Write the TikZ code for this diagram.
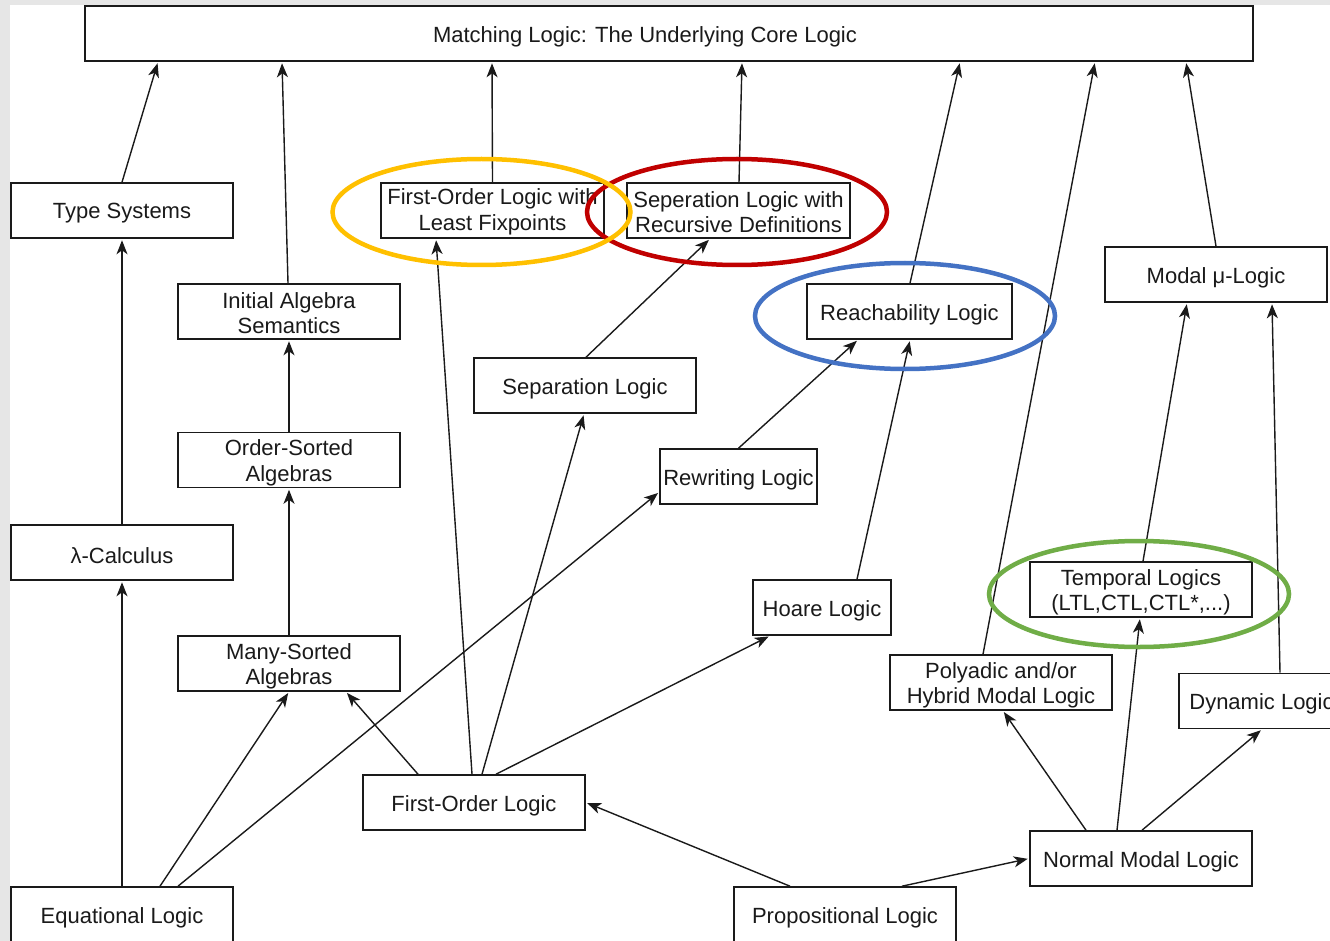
\documentclass[tikz,border=0pt]{standalone}
\usepackage{fontspec}
\setmainfont{Liberation Sans}
\usetikzlibrary{arrows.meta,calc}
\definecolor{bgray}{HTML}{E6E6E6}
\definecolor{hlyellow}{HTML}{FFC000}
\definecolor{hlred}{HTML}{C00000}
\definecolor{hlblue}{HTML}{4472C4}
\definecolor{hlgreen}{HTML}{70AD47}
\definecolor{ink}{HTML}{1A1A1A}
% \mybox[text options]{name}{(position)}{width}{text}
\newcommand\mybox[5][]{%
  \node[box,minimum width=#4] (#2) at #3 {};
  \node[txt,#1] (#2-t) at (#2.center) {#5};}
\begin{document}
\begin{tikzpicture}[x=1pt,y=-1pt,
  box/.style={draw=ink,line width=1.6pt,fill=white,inner sep=0pt,minimum height=55pt},
  txt/.style={inner sep=0pt,align=center,text=ink,font=\fontsize{22}{25.5}\selectfont,yshift=-3pt},
  two/.style={yshift=1.5pt},
  arr/.style={draw=ink,line width=1.4pt,-{Stealth[length=14pt,width=11pt,inset=4pt]},shorten >=1.5pt},
  hl/.style={line width=4.5pt}]
\clip (0,0) rectangle (1330,941);
\fill[bgray] (0,0) rectangle (1330,941);
\fill[white] (10,5) rectangle (1330,941);

% nodes
\mybox[xshift=-24pt]{ml}{(669,33.5)}{1168pt}{Matching Logic: The Underlying Core Logic}
\mybox{ts}{(122,210.5)}{222pt}{Type Systems}
\mybox[two]{lfp}{(492.5,210.5)}{223pt}{First-Order Logic with\\Least Fixpoints}
\mybox[two]{srd}{(738.5,210.5)}{223pt}{Seperation Logic with\\Recursive Definitions}
\mybox[two]{ias}{(289,311.5)}{222pt}{Initial Algebra\\Semantics}
\mybox{mmu}{(1216,274.5)}{222pt}{Modal μ-Logic}
\mybox{rl}{(909.5,311.5)}{205pt}{Reachability Logic}
\mybox{sl}{(585,385.5)}{222pt}{Separation Logic}
\mybox{osa}{(289,460)}{222pt}{Order-Sorted\\Algebras}
\mybox{rw}{(738.5,476.5)}{157pt}{Rewriting Logic}
\mybox{lam}{(122,552.5)}{222pt}{λ-Calculus}
\mybox{hl}{(822,607.5)}{138pt}{Hoare Logic}
\mybox{tl}{(1141,589.5)}{222pt}{Temporal Logics\\(LTL,CTL,CTL*,...)}
\mybox{msa}{(289,663.5)}{222pt}{Many-Sorted\\Algebras}
\mybox{pml}{(1001,682.5)}{222pt}{Polyadic and/or\\Hybrid Modal Logic}
\mybox{dl}{(1261.5,701)}{165pt}{Dynamic Logic}
\mybox{fol}{(474,802.5)}{222pt}{First-Order Logic}
\mybox{nml}{(1141,858.5)}{222pt}{Normal Modal Logic}
\mybox{eq}{(122,914.5)}{222pt}{Equational Logic}
\mybox{pl}{(845,914.5)}{222pt}{Propositional Logic}

% connectors
\draw[arr] (ts.north) -- ([xshift=-511pt]ml.south);
\draw[arr] ([xshift=-1pt]ias.north) -- ([xshift=-387pt]ml.south);
\draw[arr] (lfp.north) -- ([xshift=-177pt]ml.south);
\draw[arr] ([xshift=0.5pt]srd.north) -- ([xshift=73pt]ml.south);
\draw[arr] ([xshift=0.5pt]rl.north) -- ([xshift=291pt]ml.south);
\draw[arr] ([xshift=-18pt]pml.north) -- ([xshift=426pt]ml.south);
\draw[arr] (mmu.north) -- ([xshift=517pt]ml.south);
\draw[arr] (lam.north) -- (ts.south);
\draw[arr] (osa.north) -- (ias.south);
\draw[arr] (msa.north) -- (osa.south);
\draw[arr] (eq.north) -- (lam.south);
\draw[arr] ([xshift=38pt]eq.north) -- (msa.south);
\draw[arr] ([xshift=56pt]eq.north) -- ([yshift=-15.5pt]rw.west);
\draw[arr] ([xshift=-56pt]fol.north) -- ([xshift=57pt]msa.south);
\draw[arr] ([xshift=-2pt]fol.north) -- ([xshift=-56.5pt]lfp.south);
\draw[arr] ([xshift=8pt]fol.north) -- ([xshift=-1pt]sl.south);
\draw[arr] ([xshift=22pt]fol.north) -- ([xshift=-52pt]hl.south);
\draw[arr] ([xshift=1pt]sl.north) -- ([xshift=-28.5pt]srd.south);
\draw[arr] (rw.north) -- ([xshift=-51.5pt]rl.south);
\draw[arr] ([xshift=35pt]hl.north) -- ([xshift=0.5pt]rl.south);
\draw[arr] ([xshift=-55pt]pl.north) -- (fol.east);
\draw[arr] ([xshift=57pt]pl.north) -- (nml.west);
\draw[arr] ([xshift=-55pt]nml.north) -- ([xshift=2pt]pml.south);
\draw[arr] ([xshift=-24pt]nml.north) -- ([xshift=-1pt]tl.south);
\draw[arr] ([xshift=1pt]nml.north) -- ([xshift=0.5pt]dl.south);
\draw[arr] ([xshift=2pt]tl.north) -- ([xshift=-29pt]mmu.south);
\draw[arr] ([xshift=18.5pt]dl.north) -- ([xshift=56pt]mmu.south);

% highlight ellipses
\draw[hl,hlred] (737,212) ellipse [x radius=150pt,y radius=53pt];
\draw[hl,hlyellow] (481.5,212) ellipse [x radius=149pt,y radius=53pt];
\draw[hl,hlblue] (905,316) ellipse [x radius=150pt,y radius=53pt];
\draw[hl,hlgreen] (1139,594) ellipse [x radius=150pt,y radius=53pt];
\end{tikzpicture}
\end{document}
